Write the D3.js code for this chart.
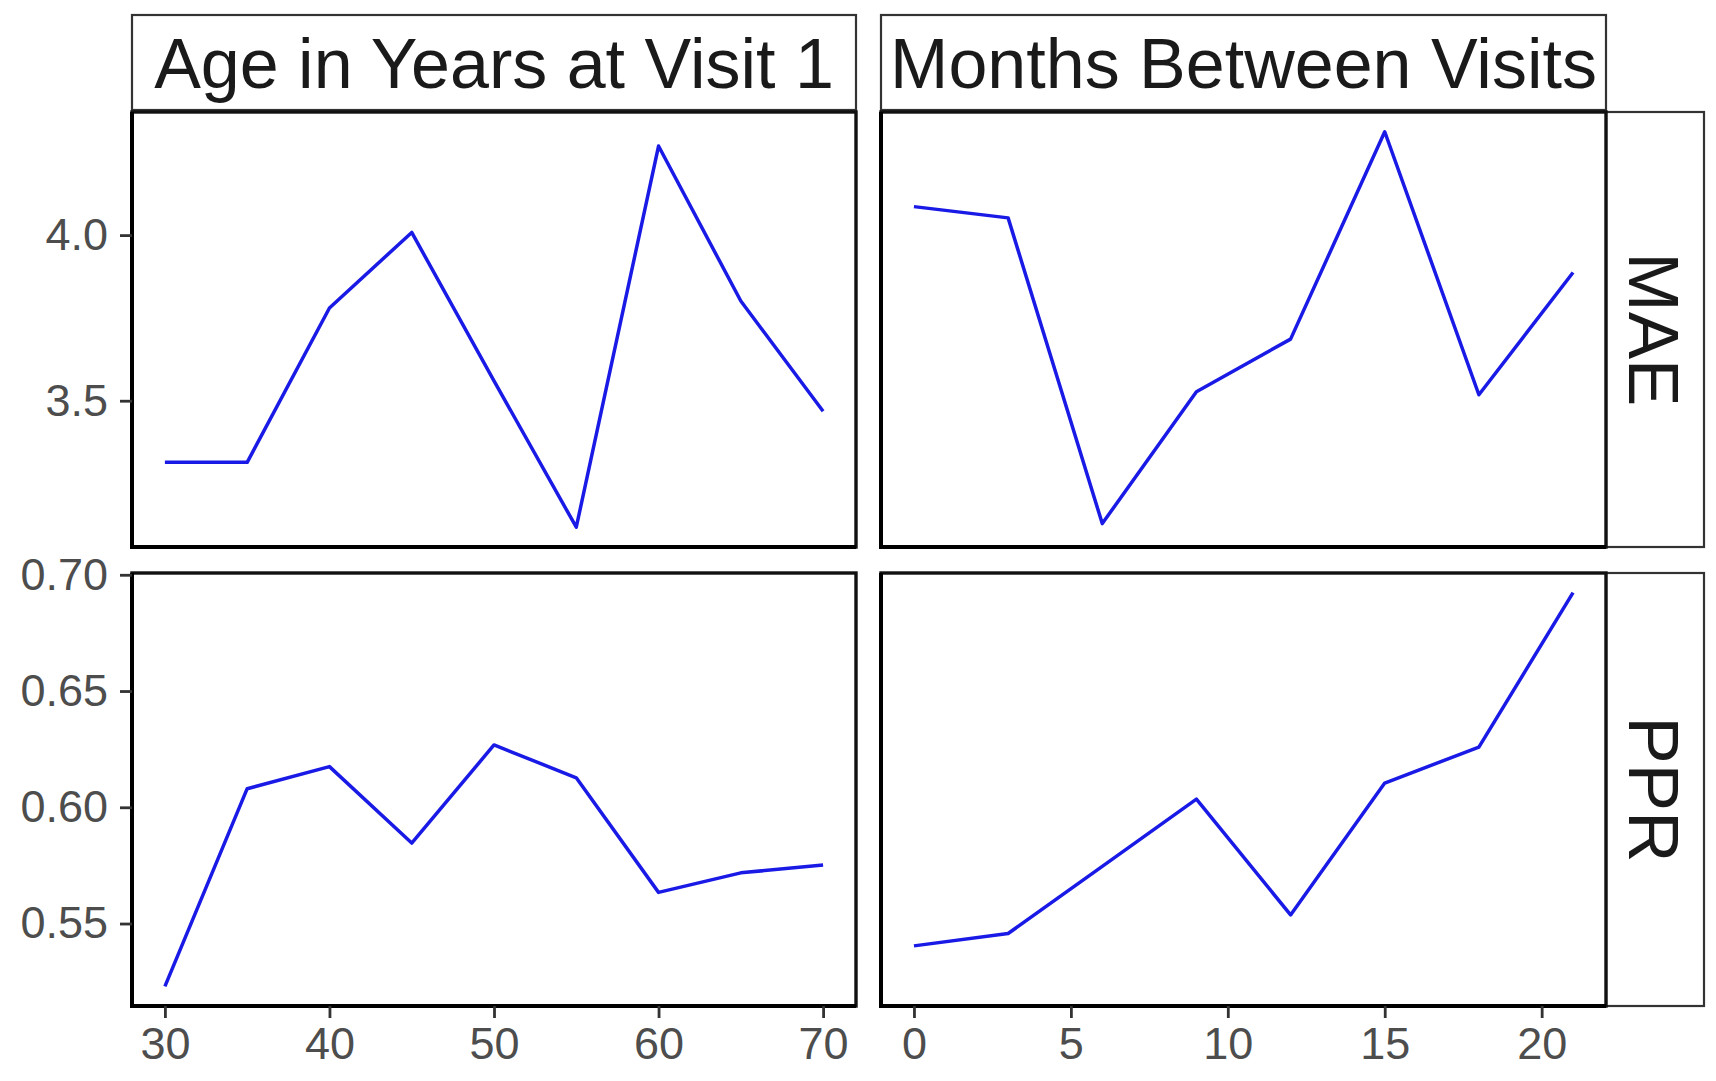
<!DOCTYPE html>
<html>
<head>
<meta charset="utf-8">
<script src="https://cdn.jsdelivr.net/npm/d3@7"></script>
<style>
  html, body { margin: 0; padding: 0; background: #ffffff; }
  svg { display: block; font-family: "Liberation Sans", Arial, Helvetica, sans-serif; }
</style>
</head>
<body>
<svg id="chart" width="1716" height="1081"></svg>
<script>
// Facet labels
const columnLabels = ["Age in Years at Visit 1", "Months Between Visits"];
const rowLabels = ["MAE", "PPR"];

// x values for each column
const ageYears = [30, 35, 40, 45, 50, 55, 60, 65, 70];
const monthsBetween = [0, 3, 6, 9, 12, 15, 18, 21];

// Metric values per column
const maeByAge = [3.314, 3.314, 3.780, 4.008, 3.560, 3.118, 4.269, 3.801, 3.468];
const pprByAge = [0.523, 0.608, 0.6175, 0.5846, 0.6268, 0.6127, 0.5634, 0.5718, 0.5752];
const maeByMonths = [4.086, 4.052, 3.129, 3.527, 3.686, 4.312, 3.518, 3.887];
const pprByMonths = [0.5404, 0.5457, 0.5746, 0.6035, 0.5537, 0.6104, 0.6259, 0.6923];

// Tick values
const ageTicks = [30, 40, 50, 60, 70];
const monthTicks = [0, 5, 10, 15, 20];
const maeTicks = [3.5, 4.0];
const pprTicks = [0.55, 0.60, 0.65, 0.70];

const svg = d3.select("#chart");

// Panel geometry
const colRanges = [[132, 856], [881, 1606]];
const rowRanges = [[112, 547], [573, 1006]];
const stripTop = 15, stripBottom = 110;
const rowStripX = [1606, 1704];

// ggplot-style 5% expansion of the data range
function expanded(values) {
  const [lo, hi] = d3.extent(values);
  const pad = (hi - lo) * 0.05;
  return [lo - pad, hi + pad];
}

const xValues = [ageYears, monthsBetween];
const xScales = xValues.map((v, i) => d3.scaleLinear().domain(expanded(v)).range(colRanges[i]));

const rowData = [
  [maeByAge, maeByMonths],
  [pprByAge, pprByMonths]
];
const yScales = rowData.map((cols, r) =>
  d3.scaleLinear().domain(expanded(cols[0].concat(cols[1]))).range([rowRanges[r][1], rowRanges[r][0]])
);

const yTickSets = [maeTicks, pprTicks];
const yFormats = [d3.format(".1f"), d3.format(".2f")];
const xTickSets = [ageTicks, monthTicks];

// Column strips
columnLabels.forEach((label, c) => {
  const [x0, x1] = colRanges[c];
  svg.append("rect")
    .attr("x", x0).attr("y", stripTop)
    .attr("width", x1 - x0).attr("height", stripBottom - stripTop)
    .attr("fill", "#ffffff").attr("stroke", "#333333").attr("stroke-width", 2.2);
  svg.append("text")
    .attr("x", (x0 + x1) / 2).attr("y", 88)
    .attr("text-anchor", "middle")
    .attr("font-size", 70).attr("fill", "#1a1a1a")
    .text(label);
});

// Row strips
rowLabels.forEach((label, r) => {
  const [y0, y1] = rowRanges[r];
  svg.append("rect")
    .attr("x", rowStripX[0]).attr("y", y0)
    .attr("width", rowStripX[1] - rowStripX[0]).attr("height", y1 - y0)
    .attr("fill", "#ffffff").attr("stroke", "#333333").attr("stroke-width", 2.2);
  const cx = (rowStripX[0] + rowStripX[1]) / 2, cy = (y0 + y1) / 2;
  svg.append("text")
    .attr("transform", `translate(${cx},${cy}) rotate(90)`)
    .attr("text-anchor", "middle").attr("dy", "0.36em")
    .attr("font-size", 71).attr("fill", "#1a1a1a")
    .text(label);
});

const line = (xs, ys) => d3.line().x(d => xs(d[0])).y(d => ys(d[1]));

// Panels
rowData.forEach((cols, r) => {
  cols.forEach((vals, c) => {
    const xs = xScales[c], ys = yScales[r];
    const pts = xValues[c].map((x, i) => [x, vals[i]]);
    const [x0, x1] = colRanges[c];
    const [y0, y1] = rowRanges[r];

    svg.append("rect")
      .attr("x", x0).attr("y", y0)
      .attr("width", x1 - x0).attr("height", y1 - y0)
      .attr("fill", "#ffffff");

    svg.append("path")
      .datum(pts)
      .attr("d", line(xs, ys))
      .attr("fill", "none")
      .attr("stroke", "#1a1ae6")
      .attr("stroke-width", 3.5)
      .attr("stroke-linejoin", "round");

    // panel border, with the axis sides drawn a touch heavier
    svg.append("rect")
      .attr("x", x0).attr("y", y0)
      .attr("width", x1 - x0).attr("height", y1 - y0)
      .attr("fill", "none").attr("stroke", "#111111").attr("stroke-width", 3.4);
    svg.append("path")
      .attr("d", `M${x0},${y0}V${y1}H${x1}`)
      .attr("fill", "none").attr("stroke", "#000000").attr("stroke-width", 4);

    if (c === 0) {
      const ax = svg.append("g")
        .attr("transform", `translate(${x0},0)`)
        .call(d3.axisLeft(ys).tickValues(yTickSets[r]).tickFormat(yFormats[r])
          .tickSize(12).tickPadding(12));
      ax.select(".domain").remove();
      ax.selectAll(".tick line").attr("stroke", "#333333").attr("stroke-width", 2.8);
      ax.selectAll(".tick text").attr("font-size", 45).attr("fill", "#4d4d4d")
        .attr("font-family", "'Liberation Sans', Arial, sans-serif");
    }
    if (r === 1) {
      const ax = svg.append("g")
        .attr("transform", `translate(0,${y1})`)
        .call(d3.axisBottom(xs).tickValues(xTickSets[c]).tickSize(12).tickPadding(9));
      ax.select(".domain").remove();
      ax.selectAll(".tick line").attr("stroke", "#333333").attr("stroke-width", 2.8);
      ax.selectAll(".tick text").attr("font-size", 45).attr("fill", "#4d4d4d")
        .attr("font-family", "'Liberation Sans', Arial, sans-serif");
    }
  });
});
</script>
</body>
</html>
